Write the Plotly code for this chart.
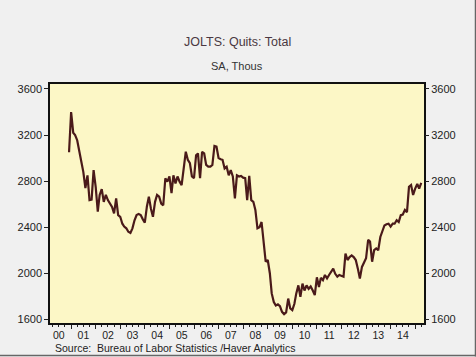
import plotly.graph_objects as go
import pandas as pd

start_month = "2000-12-01"
quits = [
    # 2000 Dec
    3050,
    # 2001
    3400, 3220, 3200, 3155, 3045, 2970, 2880, 2740, 2850, 2635, 2640, 2895,
    # 2002
    2750, 2535, 2680, 2730, 2620, 2680, 2635, 2605, 2575, 2520, 2650, 2505,
    # 2003
    2490, 2430, 2405, 2390, 2360, 2350, 2390, 2460, 2505, 2515, 2505, 2470,
    # 2004
    2440, 2580, 2665, 2560, 2490, 2620, 2680, 2665, 2605, 2590, 2825, 2795,
    # 2005
    2840, 2695, 2850, 2780, 2840, 2795, 2765, 2910, 3055, 2985, 2955, 2840,
    # 2006
    2825, 3025, 3040, 2825, 3055, 3040, 2940, 2925, 2925, 2940, 3105, 3100,
    # 2007
    3000, 2990, 2985, 2910, 2925, 2850, 2895, 2840, 2650, 2850, 2840, 2845,
    # 2008
    2830, 2825, 2635, 2845, 2635, 2620, 2550, 2390, 2400, 2445, 2285, 2100,
    # 2009
    2115, 2000, 1825, 1750, 1720, 1730, 1715, 1665, 1645, 1660, 1780, 1695,
    # 2010
    1680, 1735, 1825, 1895, 1795, 1910, 1850, 1895, 1865, 1885, 1850, 1810,
    # 2011
    1965, 1880, 1960, 1940, 1985, 1955, 1985, 2010, 2040, 1995, 1970, 1985,
    # 2012
    1975, 1970, 2170, 2115, 2140, 2155, 2140, 2115, 2040, 1955, 2055, 2100,
    # 2013
    2130, 2290, 2275, 2100, 2200, 2215, 2200, 2315, 2360, 2415, 2425, 2430,
    # 2014
    2405, 2430, 2430, 2460, 2445, 2505, 2510, 2550, 2530, 2750, 2765, 2680,
    # 2015
    2735, 2775, 2735, 2785,
]
dates = pd.date_range(start_month, periods=len(quits), freq="MS")

y_ticks = [1600, 2000, 2400, 2800, 3200, 3600]
y_range = [1568, 3643]
x_range = ["2000-02-22", "2015-05-12"]

title_text = "JOLTS: Quits: Total"
subtitle_text = "SA, Thous"
source_text = "Source:  Bureau of Labor Statistics /Haver Analytics"

FONT = "Liberation Sans, Arial, sans-serif"

fig = go.Figure()
fig.add_trace(go.Scatter(x=dates, y=quits, mode="lines",
                         line=dict(color="#4a1a1a", width=2.2),
                         hoverinfo="skip", showlegend=False))
fig.add_trace(go.Scatter(x=dates, y=quits, mode="lines", yaxis="y2",
                         line=dict(color="rgba(0,0,0,0)", width=0),
                         hoverinfo="skip", showlegend=False))

fig.update_layout(
    width=476, height=357,
    margin=dict(l=50, r=52, t=84, b=34),
    paper_bgcolor="#f0f0f0",
    plot_bgcolor="#fcf7c6",
    font=dict(family=FONT, size=11, color="#222222"),
    xaxis=dict(
        type="date", range=x_range,
        dtick="M12", tick0="2000-01-01", tickformat="%y",
        ticklabelmode="period",
        ticks="outside", ticklen=4, tickcolor="#222", tickwidth=1,
        minor=dict(dtick="M3", ticks="outside", ticklen=2, tickcolor="#222", showgrid=False),
        showgrid=False, zeroline=False,
        showline=True, linecolor="#111", linewidth=1.5, mirror=True,
        tickfont=dict(size=10.5, color="#222"),
        ticklabelstandoff=-2,
    ),
    yaxis=dict(
        range=y_range, tickvals=y_ticks,
        ticks="outside", ticklen=4, tickcolor="#222",
        showgrid=False, zeroline=False,
        showline=True, linecolor="#111", linewidth=1.5, mirror=True,
        tickfont=dict(size=11, color="#222"),
    ),
    yaxis2=dict(
        range=y_range, tickvals=y_ticks, overlaying="y", side="right",
        ticks="outside", ticklen=4, tickcolor="#222",
        showgrid=False, zeroline=False, showline=False,
        tickfont=dict(size=11, color="#222"),
    ),
    annotations=[
        dict(text=title_text, xref="paper", yref="paper", x=0.5, y=1 + (84 - 42) / 239,
             xanchor="center", yanchor="middle", showarrow=False,
             font=dict(size=12.5, color="#4a3842", family=FONT)),
        dict(text=subtitle_text, xref="paper", yref="paper", x=0.5, y=1 + (84 - 66) / 239,
             xanchor="center", yanchor="middle", showarrow=False,
             font=dict(size=11, color="#333333", family=FONT)),
        dict(text=source_text, xref="paper", yref="paper", x=(53 - 50) / 374, y=-(347.5 - 323) / 239,
             xanchor="left", yanchor="middle", showarrow=False,
             font=dict(size=10.5, color="#222222", family=FONT)),
    ],
    shapes=[
        dict(type="line", xref="paper", yref="paper",
             x0=1 + 51.5 / 374, x1=1 + 51.5 / 374, y0=-33.5 / 239, y1=1 + 84 / 239,
             line=dict(color="#666666", width=1.5)),
        dict(type="line", xref="paper", yref="paper",
             x0=-50 / 374, x1=1 + 52 / 374, y0=-32.5 / 239, y1=-32.5 / 239,
             line=dict(color="#666666", width=1.5)),
    ],
)

fig.write_html("out.html", config={"displayModeBar": False},
               post_script="document.body.style.margin='0';document.body.style.padding='0';")
